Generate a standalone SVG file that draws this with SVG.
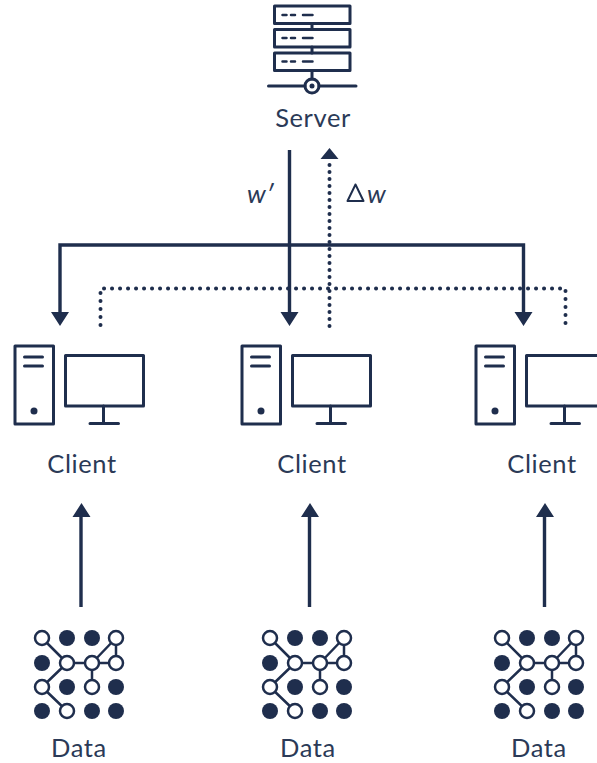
<svg xmlns="http://www.w3.org/2000/svg" width="597" height="763" viewBox="0 0 597 763">
<style>
.l{fill:none;stroke:#1f2e4d;stroke-width:3;stroke-linecap:round;stroke-linejoin:round}
.t{font-family:"Lato","Liberation Sans",sans-serif;font-size:25.500px;letter-spacing:.6px;fill:#2b3a57;text-anchor:middle}
.i{font-family:"Lato","Liberation Sans",sans-serif;font-style:italic;font-size:26px;fill:#2b3a57}
.c{stroke:#1f2e4d;stroke-width:3.400;fill:none}
.d{stroke:#1f2e4d;stroke-width:4;fill:none;stroke-linecap:round;stroke-dasharray:.1 7.900}
.v{stroke-dasharray:.1 6.900}
.o{fill:#fff;stroke:#1f2e4d;stroke-width:2.500}
.f{fill:#1f2e4d}
</style>
<defs>
<g id="client">
<rect class="l" x="15" y="346" width="38.500" height="78"/>
<path class="l" d="M24.500 357H42.500M24.500 366H42.500"/>
<circle class="f" cx="34" cy="411" r="3.500"/>
<rect class="l" x="65.500" y="355.500" width="78" height="50.500"/>
<path class="l" d="M103.500 406V423M90 423.500H118.500"/>
</g>
<g id="data">
<path class="l" style="stroke-width:2.500" d="M42 638L67 663L42 687L67 711M67 663H116M116 638L92 663M116 638V663M92 663V687"/>
<circle class="o" cx="42" cy="638" r="7"/><circle class="f" cx="67" cy="638" r="8"/><circle class="f" cx="92" cy="638" r="8"/><circle class="o" cx="116" cy="638" r="7"/>
<circle class="f" cx="42" cy="663" r="8"/><circle class="o" cx="67" cy="663" r="7"/><circle class="o" cx="92" cy="663" r="7"/><circle class="o" cx="116" cy="663" r="7"/>
<circle class="o" cx="42" cy="687" r="7"/><circle class="f" cx="67" cy="687" r="8"/><circle class="o" cx="92" cy="687" r="7"/><circle class="f" cx="116" cy="687" r="8"/>
<circle class="f" cx="42" cy="711" r="8"/><circle class="o" cx="67" cy="711" r="7"/><circle class="f" cx="92" cy="711" r="8"/><circle class="f" cx="116" cy="711" r="8"/>
</g>
</defs>
<rect width="597" height="763" fill="#fff"/>
<g id="connectors">
<path class="c" d="M289.500 150V315M60 315V245H523.500V315M81 607V515M309.500 607V515M544.500 607V515"/>
<path class="d" d="M100.500 325V288.500H565.500V325"/>
<path class="d v" d="M329.500 326V158"/>
<path class="f" d="M51 312H69L60 326ZM280.500 312H298.500L289.500 326ZM514.500 312H532.500L523.500 326ZM320.500 159L329.500 148L338.500 159ZM72.500 517L81.500 503L90.500 517ZM301 517L310 503L319 517ZM536 517L545 503L554 517Z"/>
</g>
<g id="server">
<rect class="l" x="274.500" y="6" width="75.500" height="17.500"/>
<rect class="l" x="274.500" y="29.500" width="75.500" height="17.500"/>
<rect class="l" x="274.500" y="53" width="75.500" height="17.500"/>
<path class="l" style="stroke-width:2.500" d="M282.500 15H286.500M291 15H295M303 15H312.500M282.500 38H286.500M291 38H295M303 38H312.500M282.500 61.500H286.500M291 61.500H295M303 61.500H312.500"/>
<path class="l" d="M312 23.500V29.500M312 47V53M312 70.500V79M268.500 86H305M319 86H356"/>
<circle class="l" cx="312" cy="86" r="7"/>
<circle class="f" cx="312" cy="86" r="2.500"/>
<text class="t" x="313" y="126.500">Server</text>
</g>
<g id="label-w"><text class="i" x="247" y="203">w′</text></g>
<g id="label-dw"><path class="l" style="stroke-width:2" d="M355.500 184.500L347.500 201H363.500Z"/><text class="i" x="367" y="203">w</text></g>
<g id="client-1"><use href="#client"/><text class="t" x="82" y="472.500">Client</text></g>
<g id="client-2"><use href="#client" x="227"/><text class="t" x="312" y="472.500">Client</text></g>
<g id="client-3"><use href="#client" x="461"/><text class="t" x="542" y="472.500">Client</text></g>
<g id="data-1"><use href="#data"/><text class="t" x="79" y="757">Data</text></g>
<g id="data-2"><use href="#data" x="228"/><text class="t" x="308" y="757">Data</text></g>
<g id="data-3"><use href="#data" x="460"/><text class="t" x="539" y="757">Data</text></g>
</svg>
